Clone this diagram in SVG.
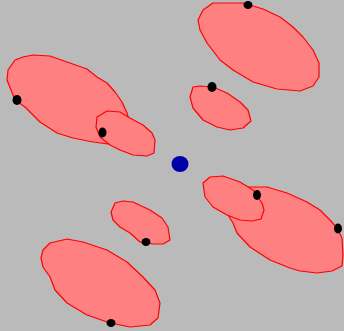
<svg xmlns="http://www.w3.org/2000/svg" width="344" height="331" viewBox="0 0 344 331">
<style>
.blob{fill:#ff8080;stroke:#ff0000;stroke-width:1.2;stroke-linejoin:round}
.dot{fill:#000}
</style>
<rect width="344" height="331" fill="#bababa"/>
<g id="blob-tl-large"><polygon class="blob" points="8,70 15,60 23,57 33,55 50,56 67,62 87,69 97,77 107,83 115,92 122,102 127,113 129,120 108,144 93,142 73,138 57,133 40,122 25,107 15,100 7,80"/></g>
<g id="blob-tl-small"><polygon class="blob" points="96,127 97,117 107,111 120,112 130,118 143,125 152,133 155,140 154,153 147,156 133,155 120,150 110,145 100,137"/></g>
<g id="blob-tr-large"><polygon class="blob" points="203,10 213,3 243,3 263,9 280,17 293,27 303,37 313,50 319,63 319,77 313,86 300,91 277,89 253,82 233,70 220,60 207,43 200,30 198,20"/></g>
<g id="blob-tr-small"><polygon class="blob" points="193,87 200,86 213,87 227,93 240,102 248,110 251,121 243,128 230,130 217,127 203,120 193,108 190,97"/></g>
<g id="blob-br-large"><polygon class="blob" points="240,187 267,187 287,193 307,202 320,210 330,220 337,228 342,238 343,255 342,266 332,271 317,273 300,271 290,268 270,260 250,247 237,233 233,223 228,215"/></g>
<g id="blob-br-small"><polygon class="blob" points="203,183 210,177 223,176 240,182 253,190 262,203 264,210 261,219 252,221 240,220 227,215 213,207 205,197"/></g>
<g id="blob-bl-small"><polygon class="blob" points="111,212 115,203 123,201 133,202 150,210 162,218 168,227 170,240 163,244 153,244 140,242 130,233 120,227 113,220"/></g>
<g id="blob-bl-large"><polygon class="blob" points="41,258 43,250 50,243 67,239 83,242 107,250 127,262 143,277 155,290 160,303 158,318 150,325 130,327 110,323 87,315 67,303 55,290 50,277 43,267"/></g>
<g id="dots">
<ellipse class="dot" cx="17" cy="100" rx="4.5" ry="5"/>
<ellipse class="dot" cx="102.5" cy="132.5" rx="4" ry="5"/>
<ellipse class="dot" cx="248" cy="5" rx="4.5" ry="4"/>
<ellipse class="dot" cx="212" cy="87" rx="4.5" ry="5"/>
<ellipse class="dot" cx="257" cy="195" rx="4" ry="5"/>
<ellipse class="dot" cx="338" cy="228.5" rx="4" ry="5"/>
<ellipse class="dot" cx="146" cy="242" rx="4.5" ry="4"/>
<ellipse class="dot" cx="111" cy="323" rx="4.5" ry="4"/>
</g>
<g id="center"><ellipse cx="180" cy="164" rx="8.5" ry="8" fill="#0000aa"/></g>
</svg>
